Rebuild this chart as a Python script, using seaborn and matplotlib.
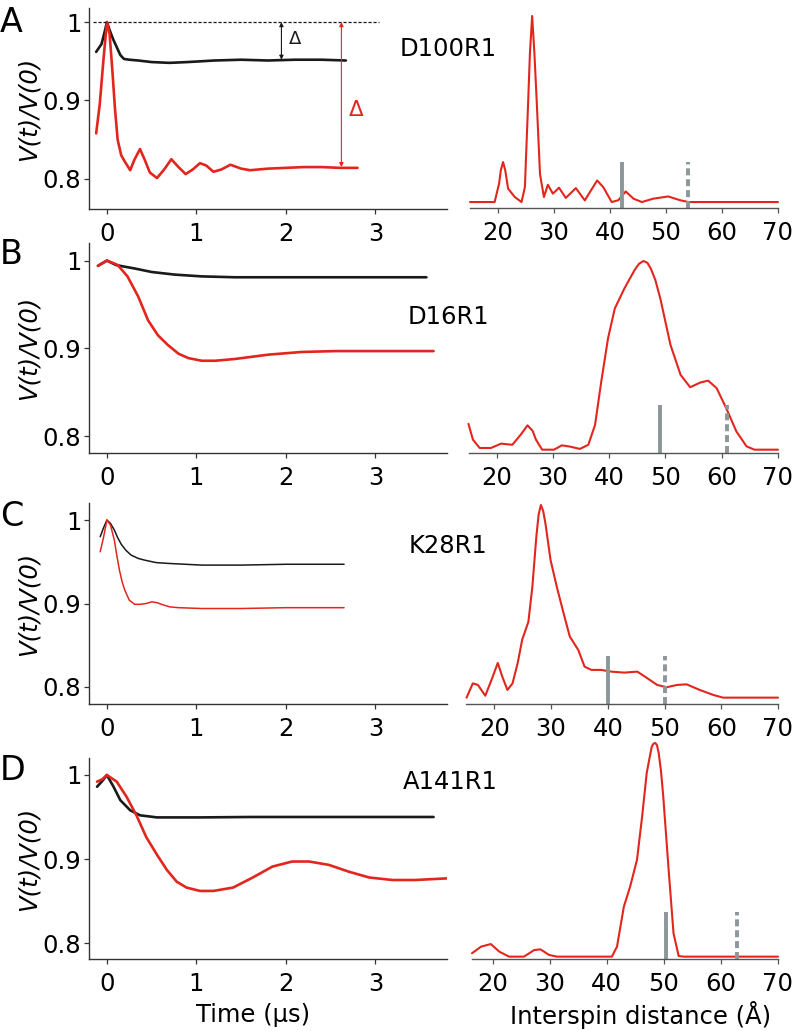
import matplotlib
matplotlib.use("Agg")
import matplotlib.pyplot as plt
import seaborn as sns

sns.set_style("ticks")
plt.rcParams["font.family"] = ["DejaVu Sans"]
plt.rcParams["text.color"] = "black"
plt.rcParams["xtick.labelcolor"] = "black"
plt.rcParams["ytick.labelcolor"] = "black"

RED = "#e3261d"
BLACK = "#1a1a1a"
GRAY = "#8c979a"

# ---------------- data ----------------
# time traces, t in us, V(t)/V(0)
a_t_black = [-0.12, -0.06, -0.02, 0.0, 0.03, 0.07, 0.11, 0.15, 0.19, 0.25, 0.35, 0.5, 0.7,
             0.9, 1.2, 1.5, 1.8, 2.1, 2.4, 2.67]
a_v_black = [0.962, 0.972, 0.99, 1.0, 0.99, 0.978, 0.968, 0.958, 0.953, 0.952, 0.951, 0.949,
             0.948, 0.949, 0.951, 0.952, 0.951, 0.952, 0.952, 0.951]
a_t_red = [-0.12, -0.08, -0.04, 0.0, 0.03, 0.06, 0.09, 0.12, 0.16, 0.2, 0.26, 0.31, 0.37, 0.42,
           0.48, 0.56, 0.64, 0.72, 0.8, 0.88, 0.96, 1.04, 1.11, 1.19, 1.28, 1.38, 1.5, 1.6,
           1.8, 2.0, 2.2, 2.4, 2.6, 2.8]
a_v_red = [0.858, 0.895, 0.95, 1.0, 0.985, 0.94, 0.89, 0.85, 0.83, 0.822, 0.811, 0.825, 0.838,
           0.825, 0.808, 0.801, 0.812, 0.825, 0.815, 0.806, 0.812, 0.820, 0.817, 0.809, 0.812,
           0.818, 0.813, 0.811, 0.813, 0.814, 0.815, 0.815, 0.814, 0.814]

b_t_black = [-0.1, -0.05, 0.0, 0.1, 0.2, 0.31, 0.5, 0.76, 1.06, 1.43, 2.0, 2.5, 3.0, 3.57]
b_v_black = [0.994, 0.997, 1.0, 0.995, 0.993, 0.991, 0.987, 0.984, 0.982, 0.981, 0.981, 0.981,
             0.981, 0.981]
b_t_red = [-0.1, -0.05, 0.0, 0.12, 0.23, 0.35, 0.46, 0.57, 0.68, 0.8, 0.91, 1.06, 1.21, 1.43,
           1.81, 2.18, 2.56, 3.0, 3.65]
b_v_red = [0.994, 0.997, 1.0, 0.995, 0.982, 0.959, 0.932, 0.915, 0.904, 0.894, 0.889, 0.886,
           0.886, 0.888, 0.893, 0.896, 0.897, 0.897, 0.897]

c_t_black = [-0.075, -0.04, 0.0, 0.04, 0.083, 0.12, 0.16, 0.21, 0.27, 0.35, 0.42, 0.55, 0.69,
             1.06, 1.5, 2.0, 2.65]
c_v_black = [0.98, 0.99, 1.0, 0.996, 0.988, 0.979, 0.971, 0.964, 0.958, 0.954, 0.952, 0.949,
             0.948, 0.946, 0.946, 0.947, 0.947]
c_t_red = [-0.075, -0.04, 0.0, 0.04, 0.083, 0.11, 0.14, 0.17, 0.2, 0.25, 0.31, 0.37, 0.44, 0.5,
           0.56, 0.61, 0.7, 0.8, 1.06, 1.5, 2.0, 2.65]
c_v_red = [0.962, 0.978, 1.0, 0.994, 0.976, 0.958, 0.94, 0.926, 0.916, 0.904, 0.899, 0.899, 0.9,
           0.902, 0.901, 0.899, 0.896, 0.895, 0.894, 0.894, 0.895, 0.895]

d_t_black = [-0.11, -0.05, 0.0, 0.074, 0.15, 0.26, 0.37, 0.56, 1.04, 1.6, 2.2, 2.8, 3.3, 3.65]
d_v_black = [0.986, 0.993, 1.0, 0.986, 0.970, 0.958, 0.952, 0.9495, 0.9495, 0.950, 0.950,
             0.950, 0.950, 0.950]
d_t_red = [-0.11, -0.05, 0.0, 0.11, 0.22, 0.33, 0.44, 0.56, 0.67, 0.78, 0.89, 1.04, 1.19, 1.41,
           1.63, 1.85, 2.07, 2.26, 2.48, 2.7, 2.93, 3.19, 3.44, 3.81]
d_v_red = [0.992, 0.995, 1.0, 0.992, 0.974, 0.952, 0.926, 0.905, 0.887, 0.873, 0.866, 0.862,
           0.862, 0.866, 0.878, 0.891, 0.897, 0.897, 0.893, 0.885, 0.878, 0.875, 0.875, 0.877]

# distance distributions, r in Angstrom, P(r) normalised to peak
a_r = [15, 19.4, 20.2, 20.5, 20.9, 21.3, 21.8, 23, 24.2, 24.8, 25.4, 25.7, 26.1, 26.5, 26.9,
       27.5, 28.2, 28.9, 29.8, 30.9, 32.1, 33.9, 35.5, 37.7, 38.8, 40.3, 41.5, 42.8, 44.2, 45.7,
       47.7, 50.4, 52.5, 54, 70]
a_p = [0, 0, 0.1, 0.17, 0.215, 0.17, 0.072, 0.027, 0, 0.08, 0.55, 0.8, 1.0, 0.8, 0.55, 0.15,
       0.027, 0.093, 0.045, 0.077, 0.022, 0.075, 0.009, 0.116, 0.08, 0, 0.01, 0.057, 0.018, 0,
       0.018, 0.03, 0.01, 0, 0]
b_r = [15, 15.8, 17, 19, 20.8, 22.8, 24.3, 25.5, 26.4, 27, 28.1, 30.2, 31.6, 33.1, 34.8, 36.3,
       37.5, 38.6, 39.8, 41, 42.7, 44.5, 45.3, 46.1, 46.8, 47.4, 48.2, 49.1, 50.9, 52.7, 54.4,
       56.2, 57.6, 59.1, 60.8, 62.6, 64.4, 65.8, 70]
b_p = [0.137, 0.053, 0.009, 0.009, 0.032, 0.026, 0.08, 0.129, 0.1, 0.053, 0, 0, 0.023, 0.016,
       0.004, 0.026, 0.132, 0.361, 0.59, 0.748, 0.854, 0.951, 0.985, 1.0, 0.99, 0.96, 0.9, 0.8,
       0.555, 0.396, 0.331, 0.356, 0.366, 0.326, 0.22, 0.097, 0.018, 0, 0]
c_r = [15.1, 16.2, 17.1, 18.4, 19.6, 20.6, 21.4, 22.3, 23.2, 24.1, 24.9, 26, 26.7, 27.4, 27.8,
       28.2, 28.6, 29, 29.9, 31, 32.2, 33.3, 34.8, 35.9, 37.1, 38.8, 40.6, 42.9, 45.2, 47, 48.7,
       50.4, 52.2, 53.9, 56.2, 58.6, 60.3, 70]
c_p = [0, 0.074, 0.066, 0.01, 0.1, 0.18, 0.109, 0.04, 0.074, 0.178, 0.3, 0.394, 0.576, 0.836,
       0.95, 1.0, 0.97, 0.905, 0.715, 0.576, 0.438, 0.317, 0.247, 0.161, 0.144, 0.144, 0.135,
       0.13, 0.135, 0.1, 0.066, 0.054, 0.066, 0.069, 0.04, 0.014, 0, 0]
d_r = [16.4, 18, 19.7, 21.2, 22.9, 25.5, 27.3, 28.4, 29.9, 31.3, 40.9, 41.8, 43, 44.1, 45.3,
       46.2, 47, 47.5, 47.9, 48.2, 48.5, 48.8, 49.1, 49.5, 49.9, 50.8, 51.7, 52.6, 53.5, 70]
d_p = [0.016, 0.047, 0.059, 0.023, 0, 0, 0.031, 0.034, 0.008, 0, 0, 0.047, 0.234, 0.328, 0.453,
       0.656, 0.859, 0.93, 0.984, 0.997, 1.0, 0.99, 0.953, 0.87, 0.75, 0.422, 0.109, 0.003, 0, 0]

# gray reference distances (solid, dashed) and their bar heights
ref_solid = [42.1, 49.0, 40.0, 50.4]
ref_dashed = [54.0, 60.9, 50.1, 62.9]
ref_height = [0.215, 0.238, 0.215, 0.211]

panel_letters = ["A", "B", "C", "D"]
sample_names = ["D100R1", "D16R1", "K28R1", "A141R1"]

# ---------------- layout (pixels in a 793x1031 canvas) ----------------
W, H = 793, 1031
left_box = [(8, 209, (0.7615, 1.018)), (243, 453, (0.781, 1.020)),
            (503, 704, (0.7796, 1.0204)), (758, 959, (0.781, 1.0202))]
right_box = [(470, 778, 16, 208, 15.0, -0.032), (469, 778, 261, 453, 15.1, -0.0176),
             (466, 778, 505, 704, 15.0, -0.033), (472, 778, 743, 959, 16.4, -0.011)]
letter_y = [22, 255, 517, 770]
name_xy = [(400, 49), (408, 317), (409, 546), (403, 782)]

FS = 17.5


def px_axes(fig, x0, x1, y0, y1):
    return fig.add_axes([x0 / W, 1 - y1 / H, (x1 - x0) / W, (y1 - y0) / H])


def style_axes(ax, color):
    for side in ["top", "right"]:
        ax.spines[side].set_visible(False)
    for side in ["left", "bottom"]:
        ax.spines[side].set_color(color)
        ax.spines[side].set_linewidth(1.0)
    ax.tick_params(labelsize=FS, length=3.5, width=0.9, color=color, labelcolor="black", pad=6)


fig = plt.figure(figsize=(W / 100, H / 100), dpi=100)

traces = [(a_t_black, a_v_black, a_t_red, a_v_red),
          (b_t_black, b_v_black, b_t_red, b_v_red),
          (c_t_black, c_v_black, c_t_red, c_v_red),
          (d_t_black, d_v_black, d_t_red, d_v_red)]
dists = [(a_r, a_p), (b_r, b_p), (c_r, c_p), (d_r, d_p)]

for i in range(4):
    # ---- left: time domain traces ----
    top, bot, ylim = left_box[i]
    ax = px_axes(fig, 89, 447, top, bot)
    tb, vb, tr, vr = traces[i]
    lw = 1.9 if i != 2 else 1.1
    sns.lineplot(x=tb, y=vb, ax=ax, color=BLACK, lw=lw, estimator=None, sort=False)
    sns.lineplot(x=tr, y=vr, ax=ax, color=RED, lw=lw, estimator=None, sort=False)
    ax.set_xlim(-0.2, 3.8)
    ax.set_ylim(*ylim)
    ax.set_xticks([0, 1, 2, 3])
    ax.set_yticks([0.8, 0.9, 1.0])
    ax.set_yticklabels(["0.8", "0.9", "1"])
    style_axes(ax, "#333333")
    ax.tick_params(axis="y", pad=2)
    ax.set_xlabel("")
    ax.set_ylabel("")
    ax.text(-0.168, 0.5, "V(t)/V(0)", transform=ax.transAxes, rotation=90, ha="center",
            va="center", fontsize=FS, style="italic")

    if i == 0:
        ax.plot([-0.15, 3.04], [1.0, 1.0], color=BLACK, lw=0.9, ls=(0, (2.5, 1.5)))
        ax.annotate("", xy=(1.95, 0.952), xytext=(1.95, 1.0),
                    arrowprops=dict(arrowstyle="<|-|>", color=BLACK, lw=0.8,
                                    mutation_scale=6, shrinkA=0, shrinkB=0))
        ax.annotate("", xy=(2.62, 0.815), xytext=(2.62, 1.0),
                    arrowprops=dict(arrowstyle="<|-|>", color=RED, lw=0.8,
                                    mutation_scale=6, shrinkA=0, shrinkB=0))
        ax.text(2.10, 0.978, "Δ", color=BLACK, fontsize=13, ha="center", va="center")
        ax.text(2.78, 0.888, "Δ", color=RED, fontsize=15.5, ha="center", va="center")
    if i == 3:
        fig.text(253 / W, 1 - 1015 / H, "Time (µs)", fontsize=FS, ha="center", va="center")

    # ---- right: distance distributions ----
    x0, x1, rtop, rbot, rmin, pmin = right_box[i]
    axr = px_axes(fig, x0, x1, rtop, rbot)
    r, p = dists[i]
    sns.lineplot(x=r, y=p, ax=axr, color=RED, lw=1.5, estimator=None, sort=False)
    for ln in axr.lines:
        ln.set_clip_on(False)
    axr.plot([ref_solid[i]] * 2, [pmin, ref_height[i]], color=GRAY, lw=2.8,
             solid_capstyle="butt")
    axr.plot([ref_dashed[i]] * 2, [pmin, ref_height[i]], color=GRAY, lw=2.8,
             ls=(0, (1.8, 1.0)))
    axr.set_xlim(rmin, 70)
    axr.set_ylim(pmin, 1.0)
    axr.set_xticks([20, 30, 40, 50, 60, 70])
    axr.set_yticks([])
    style_axes(axr, "#555555")
    axr.spines["left"].set_visible(False)
    axr.set_xlabel("")
    axr.set_ylabel("")
    if i == 3:
        fig.text(641 / W, 1 - 1015 / H, "Interspin distance (Å)", fontsize=FS,
                 ha="center", va="center")

    fig.text(0.0, 1 - letter_y[i] / H, panel_letters[i], fontsize=24, ha="left", va="center")
    nx, ny = name_xy[i]
    fig.text(nx / W, 1 - ny / H, sample_names[i], fontsize=FS, ha="left", va="center")

fig.savefig("out.png", dpi=100)
